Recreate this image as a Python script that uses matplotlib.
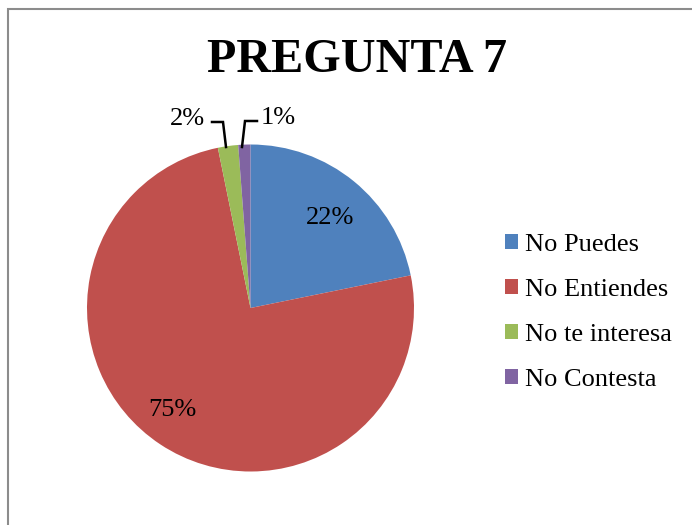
import matplotlib
matplotlib.use("Agg")
import matplotlib.pyplot as plt
from matplotlib.patches import Rectangle

categories = ["No Puedes", "No Entiendes", "No te interesa", "No Contesta"]
values = [21.8, 75.0, 2.0, 1.2]
labels = ["22%", "75%", "2%", "1%"]
colors = ["#4F81BD", "#C0504D", "#9BBB59", "#8064A2"]
title = "PREGUNTA 7"

W, H = 692, 525
fig = plt.figure(figsize=(W/100, H/100), dpi=100)
plt.rcParams['font.family'] = ['Liberation Serif', 'DejaVu Serif']

# border (right and bottom edges lie outside the image)
fig.patches.append(Rectangle((8/W, -0.2), 1.2, (525-9)/H + 0.2, transform=fig.transFigure,
                             fill=False, edgecolor="#8C8C8C", linewidth=1.5))

cx, cy, r = 250.5, 308, 163.5
ax = fig.add_axes([(cx-r)/W, (H-cy-r)/H, 2*r/W, 2*r/H])
wedges, _ = ax.pie(values, colors=colors, startangle=90, counterclock=False,
                   radius=1, wedgeprops=dict(linewidth=0))
ax.set_xlim(-1, 1)
ax.set_ylim(-1, 1)
ax.set_aspect('equal')
ax.axis('off')

def px(x, y):
    return ((x-cx)/r, (cy-y)/r)

fs = 19
ax.text(*px(330, 218), labels[0], ha='center', va='center', fontsize=fs)
ax.text(*px(172, 410), labels[1], ha='center', va='center', fontsize=fs)
ax.text(*px(205, 119), labels[2], ha='right', va='center', fontsize=fs)
ax.text(*px(261, 118), labels[3], ha='left', va='center', fontsize=fs)

# leader lines
x1, y1 = zip(px(212, 122), px(223, 122), px(226, 147))
ax.plot(x1, y1, color='black', linewidth=1.8, clip_on=False, solid_joinstyle='miter')
x2, y2 = zip(px(242, 147), px(245, 121), px(257, 121))
ax.plot(x2, y2, color='black', linewidth=1.8, clip_on=False, solid_joinstyle='miter')

fig.text(357/W, 1-60/H, title, ha='center', va='center', fontsize=34.7, fontweight='bold')

leg = fig.legend(wedges, categories, loc='center left',
                 bbox_to_anchor=(505/W, 1-312.5/H), frameon=False,
                 fontsize=fs, handlelength=0.5, handleheight=0.5,
                 handletextpad=0.25, labelspacing=0.88,
                 borderpad=0, borderaxespad=0)

fig.savefig("out.png", dpi=100)
